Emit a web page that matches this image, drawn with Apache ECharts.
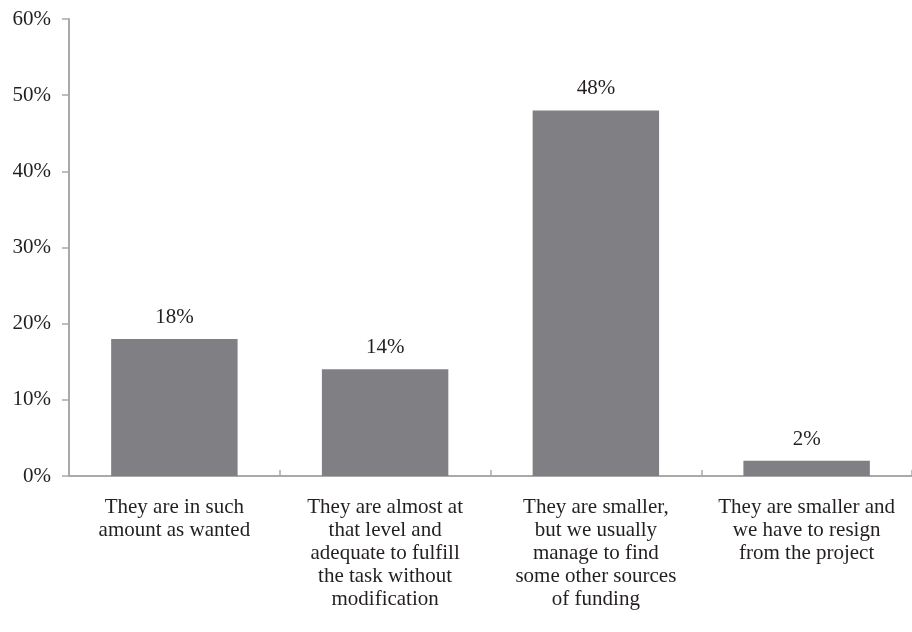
<!DOCTYPE html>
<html>
<head>
<meta charset="utf-8">
<script src="https://cdn.jsdelivr.net/npm/echarts@6/dist/echarts.min.js"></script>
<style>
  html, body { margin: 0; padding: 0; background: #fff; }
  #chart { width: 912px; height: 632px; }
</style>
</head>
<body>
<div id="chart"></div>
<script>
// Answer categories (line breaks as printed under the axis)
const categories = [
  'They are in such\namount as wanted',
  'They are almost at\nthat level and\nadequate to fulfill\nthe task without\nmodification',
  'They are smaller,\nbut we usually\nmanage to find\nsome other sources\nof funding',
  'They are smaller and\nwe have to resign\nfrom the project'
];
// Share of respondents, percent
const shares = [18, 14, 48, 2];
// Value-axis tick values
const yTicks = [0, 10, 20, 30, 40, 50, 60];

const FONT = '"Liberation Serif", "DejaVu Serif", serif';
const TEXT = '#231f20';
const AXIS = '#a9a9a9';

const chart = echarts.init(document.getElementById('chart'), null, { renderer: 'canvas' });
chart.setOption({
  animation: false,
  grid: { left: 69, right: -5, top: 19, bottom: 156, containLabel: false },
  xAxis: {
    type: 'category',
    data: categories,
    axisLine: { lineStyle: { color: AXIS, width: 2 } },
    axisTick: { show: true, inside: true, length: 6, alignWithLabel: false, lineStyle: { color: AXIS, width: 1.5 } },
    axisLabel: {
      interval: 0, margin: 20, color: TEXT, fontFamily: FONT, fontSize: 21, lineHeight: 23, align: 'center'
    }
  },
  yAxis: {
    type: 'value',
    min: yTicks[0],
    max: yTicks[yTicks.length - 1],
    interval: 10,
    splitLine: { show: false },
    axisLine: { show: true, lineStyle: { color: AXIS, width: 2 } },
    axisTick: { show: true, length: 7, lineStyle: { color: AXIS, width: 1.5 } },
    axisLabel: { margin: 18, color: TEXT, fontFamily: FONT, fontSize: 21, formatter: v => v + '%' }
  },
  series: [{
    type: 'bar',
    data: shares,
    barCategoryGap: '40%',
    itemStyle: { color: '#808084' },
    label: {
      show: true, position: 'top', distance: 11,
      color: TEXT, fontFamily: FONT, fontSize: 21,
      formatter: p => p.value + '%'
    }
  }]
});
</script>
</body>
</html>
